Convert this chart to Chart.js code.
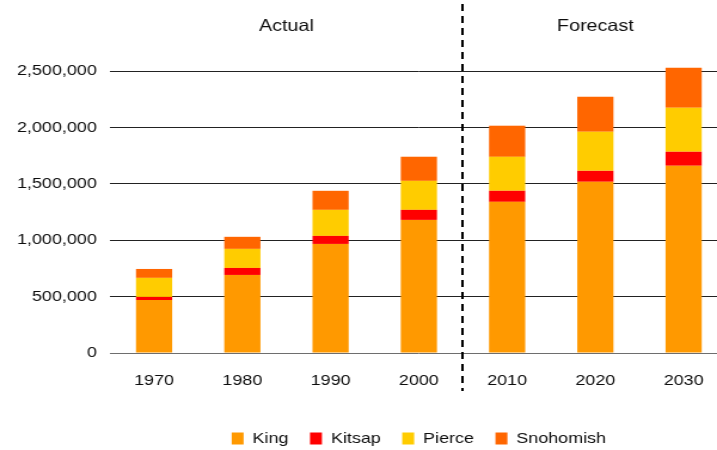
<!DOCTYPE html>
<html>
<head>
<meta charset="utf-8">
<title>Regional population by county</title>
<script src="https://cdn.jsdelivr.net/npm/chart.js@4/dist/chart.umd.min.js"></script>
<style>
  html, body { margin: 0; padding: 0; background: #ffffff; overflow: hidden; }
  #chart { display: block; transform: scaleX(1.195); transform-origin: 0 0; }
</style>
</head>
<body>
<canvas id="chart" width="609" height="456"></canvas>
<script>
// Census years and forecast years
const years = ['1970', '1980', '1990', '2000', '2010', '2020', '2030'];

// Population by county
const king      = [470000, 692000, 967000, 1180000, 1340000, 1518000, 1660000];
const kitsap    = [ 27000,  62000,  71000,   89000,   98000,   97000,  124000];
const pierce    = [169000, 169000, 231000,  257000,  301000,  346000,  390000];
const snohomish = [ 79000, 107000, 169000,  214000,  276000,  311000,  355000];

// Value axis ticks
const yMin = 0;
const yMax = 2500000;
const yStep = 500000;

// Period headings and the boundary between them (in category index units)
const periods = [
  { label: 'Actual',   center: 1.5 },
  { label: 'Forecast', center: 5 }
];
const periodBoundary = 3.5;

const FONT = "'Liberation Sans', Arial, sans-serif";
const TEXT = '#0d0d0d';

const periodPlugin = {
  id: 'periods',
  afterDatasetsDraw(chart) {
    const { ctx, scales: { x } } = chart;
    ctx.save();
    // dashed separator between actual and forecast years
    const bx = Math.round(x.getPixelForValue(periodBoundary));
    ctx.strokeStyle = '#000000';
    ctx.lineWidth = 2;
    ctx.setLineDash([7, 5]);
    ctx.beginPath();
    ctx.moveTo(bx, 4);
    ctx.lineTo(bx, 391);
    ctx.stroke();
    ctx.setLineDash([]);
    // period headings
    ctx.fillStyle = TEXT;
    ctx.font = '16.5px ' + FONT;
    ctx.textAlign = 'center';
    ctx.textBaseline = 'middle';
    periods.forEach(p => {
      ctx.fillText(p.label, x.getPixelForValue(p.center), 26);
    });
    ctx.restore();
  }
};

// the 2030 total rises just past the top tick, so bars are not clipped
const barOpts = { categoryPercentage: 1, barPercentage: 0.41, borderWidth: 0, clip: false };

new Chart(document.getElementById('chart'), {
  type: 'bar',
  data: {
    labels: years,
    datasets: [
      { label: 'King',      data: king,      backgroundColor: '#FF9900', ...barOpts },
      { label: 'Kitsap',    data: kitsap,    backgroundColor: '#FF0000', ...barOpts },
      { label: 'Pierce',    data: pierce,    backgroundColor: '#FFCC00', ...barOpts },
      { label: 'Snohomish', data: snohomish, backgroundColor: '#FF6600', ...barOpts }
    ]
  },
  options: {
    responsive: false,
    animation: false,
    devicePixelRatio: 1,
    layout: { padding: { left: 14, top: 71, right: 0, bottom: 0 } },
    scales: {
      x: {
        stacked: true,
        grid: { display: false, drawTicks: false },
        border: { display: false },
        ticks: { color: TEXT, font: { family: FONT, size: 15 }, padding: 19, maxRotation: 0 },
        afterFit(scale) { scale.height = 60; }
      },
      y: {
        stacked: true,
        min: yMin,
        max: yMax,
        grid: {
          drawTicks: false,
          lineWidth: 1,
          color: ctx => (ctx.tick && ctx.tick.value === 0) ? '#6e6e6e' : '#222222'
        },
        border: { display: false },
        ticks: {
          stepSize: yStep,
          padding: 11,
          color: TEXT,
          font: { family: FONT, size: 15 },
          callback: v => v.toLocaleString('en-US')
        },
        afterFit(scale) { scale.width = 78; }
      }
    },
    plugins: {
      legend: {
        position: 'bottom',
        fullSize: false,
        labels: {
          boxWidth: 10,
          boxHeight: 12,
          padding: 18,
          color: TEXT,
          font: { family: FONT, size: 15 }
        }
      },
      tooltip: { enabled: false }
    }
  },
  plugins: [periodPlugin]
});
</script>
</body>
</html>
